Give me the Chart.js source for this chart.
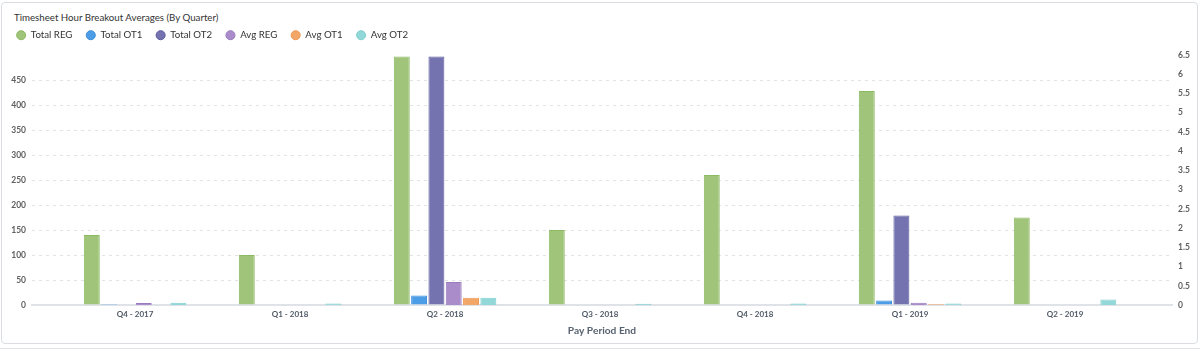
<!DOCTYPE html>
<html>
<head>
<meta charset="utf-8">
<script src="https://cdn.jsdelivr.net/npm/chart.js@4/dist/chart.umd.min.js"></script>
<style>
  html, body { margin: 0; padding: 0; background: #fff; }
  body { width: 1200px; height: 350px; position: relative; overflow: hidden; font-family: Lato, sans-serif; }
  .card { position: absolute; left: 1px; top: 2px; width: 1195px; height: 340px; border: 1px solid #d9dde2; border-radius: 4px; }
  .page-rule { position: absolute; left: 0; top: 348px; width: 1200px; height: 1px; background: #dfe2e6; }
  .card-title { position: absolute; left: 14px; top: 10.5px; font-size: 9.7px; line-height: 13px; color: #333; }
  #chart { position: absolute; left: 0; top: 0; }
</style>
</head>
<body>
<div class="card"></div>
<div class="page-rule"></div>
<div class="card-title">Timesheet Hour Breakout Averages (By Quarter)</div>
<canvas id="chart" width="1200" height="350"></canvas>
<script>
const quarters = ['Q4 - 2017', 'Q1 - 2018', 'Q2 - 2018', 'Q3 - 2018', 'Q4 - 2018', 'Q1 - 2019', 'Q2 - 2019'];

// totals (hours, left axis)
const totalReg = [140, 100, 497, 150, 260, 428, 175];
const totalOt1 = [2, 0, 19, 0, 0, 9, 0];
const totalOt2 = [0, 0, 497, 0, 0, 179, 0];

// averages (hours, right axis)
const avgReg = [0.05, 0, 0.6, 0, 0, 0.06, 0];
const avgOt1 = [0, 0, 0.19, 0, 0, 0.02, 0];
const avgOt2 = [0.06, 0.04, 0.19, 0.03, 0.04, 0.04, 0.14];

const hoursTicks = [0, 50, 100, 150, 200, 250, 300, 350, 400, 450, 500];

Chart.defaults.font.family = 'Lato, sans-serif';

const toPoints = (values) => values.map((v, i) => ({ x: i, y: v }));

function series(label, values, fill, border, axis) {
  return {
    label,
    data: toPoints(values),
    backgroundColor: fill,
    borderColor: border,
    borderWidth: 1,
    yAxisID: axis,
    categoryPercentage: 0.67,
    barPercentage: 0.92,
  };
}

// a bit of room between the legend row and the plot
const legendGap = {
  id: 'legendGap',
  beforeInit(chart) {
    const fit = chart.legend.fit;
    chart.legend.fit = function () {
      fit.call(this);
      this.height += 4.95;
    };
  },
};

new Chart(document.getElementById('chart'), {
  type: 'bar',
  data: {
    datasets: [
      series('Total REG', totalReg, '#9fc47a', '#8bba63', 'y'),
      series('Total OT1', totalOt1, '#4d9de6', '#3b8cdb', 'y'),
      series('Total OT2', totalOt2, '#7473b0', '#5e5c9e', 'y'),
      series('Avg REG', avgReg, '#a98cc9', '#9a7bc0', 'y1'),
      series('Avg OT1', avgOt1, '#f2a668', '#ee9853', 'y1'),
      series('Avg OT2', avgOt2, '#93d8d8', '#7fcfcd', 'y1'),
    ],
  },
  plugins: [legendGap],
  options: {
    responsive: false,
    animation: false,
    layout: { padding: { top: 16.85, left: 2.8, right: 0, bottom: 0 } },
    plugins: {
      title: { display: false },
      tooltip: { enabled: false },
      legend: {
        position: 'top',
        align: 'start',
        labels: {
          usePointStyle: true,
          pointStyle: 'circle',
          boxWidth: 9.7,
          boxHeight: 6.4,
          padding: 13.5,
          color: '#333',
          font: { size: 9.7 },
        },
      },
    },
    scales: {
      x: {
        type: 'linear',
        min: -0.665,
        max: 6.69,
        offset: false,
        grid: { display: false, drawTicks: false },
        border: { display: true, color: '#dfe3e8', width: 2 },
        afterBuildTicks: (scale) => {
          scale.ticks = quarters.map((_, i) => ({ value: i }));
        },
        afterFit: (scale) => { scale.height = 45; },
        ticks: {
          padding: 4.5,
          color: '#4f5965',
          font: { size: 8, weight: 'bold' },
          maxRotation: 0,
          autoSkip: false,
          callback: (v) => quarters[v],
        },
        title: {
          display: true,
          text: 'Pay Period End',
          color: '#56626f',
          font: { size: 10.2, weight: 'bold' },
          padding: { top: 0, bottom: 12.8 },
        },
      },
      y: {
        position: 'left',
        min: 0,
        max: 500,
        afterBuildTicks: (scale) => {
          scale.ticks = hoursTicks.map((v) => ({ value: v }));
        },
        afterFit: (scale) => { scale.width = 29.2; },
        border: { display: false, dash: [3, 4] },
        grid: {
          drawTicks: false,
          color: (ctx) => (ctx.tick.value === 0 || ctx.tick.value === 500 ? 'rgba(0,0,0,0)' : '#e3e3e3'),
        },
        ticks: {
          padding: 6,
          color: '#606060',
          font: { size: 8.5, weight: 'bold' },
          callback: (v) => (v === 500 ? '' : v),
        },
      },
      y1: {
        position: 'right',
        min: 0,
        max: 6.5,
        afterFit: (scale) => { scale.width = 28; },
        border: { display: false },
        grid: { display: false, drawTicks: false },
        ticks: {
          stepSize: 0.5,
          padding: 6,
          color: '#606060',
          font: { size: 8.5, weight: 'bold' },
          callback: (v) => String(v),
        },
      },
    },
  },
});
</script>
</body>
</html>
